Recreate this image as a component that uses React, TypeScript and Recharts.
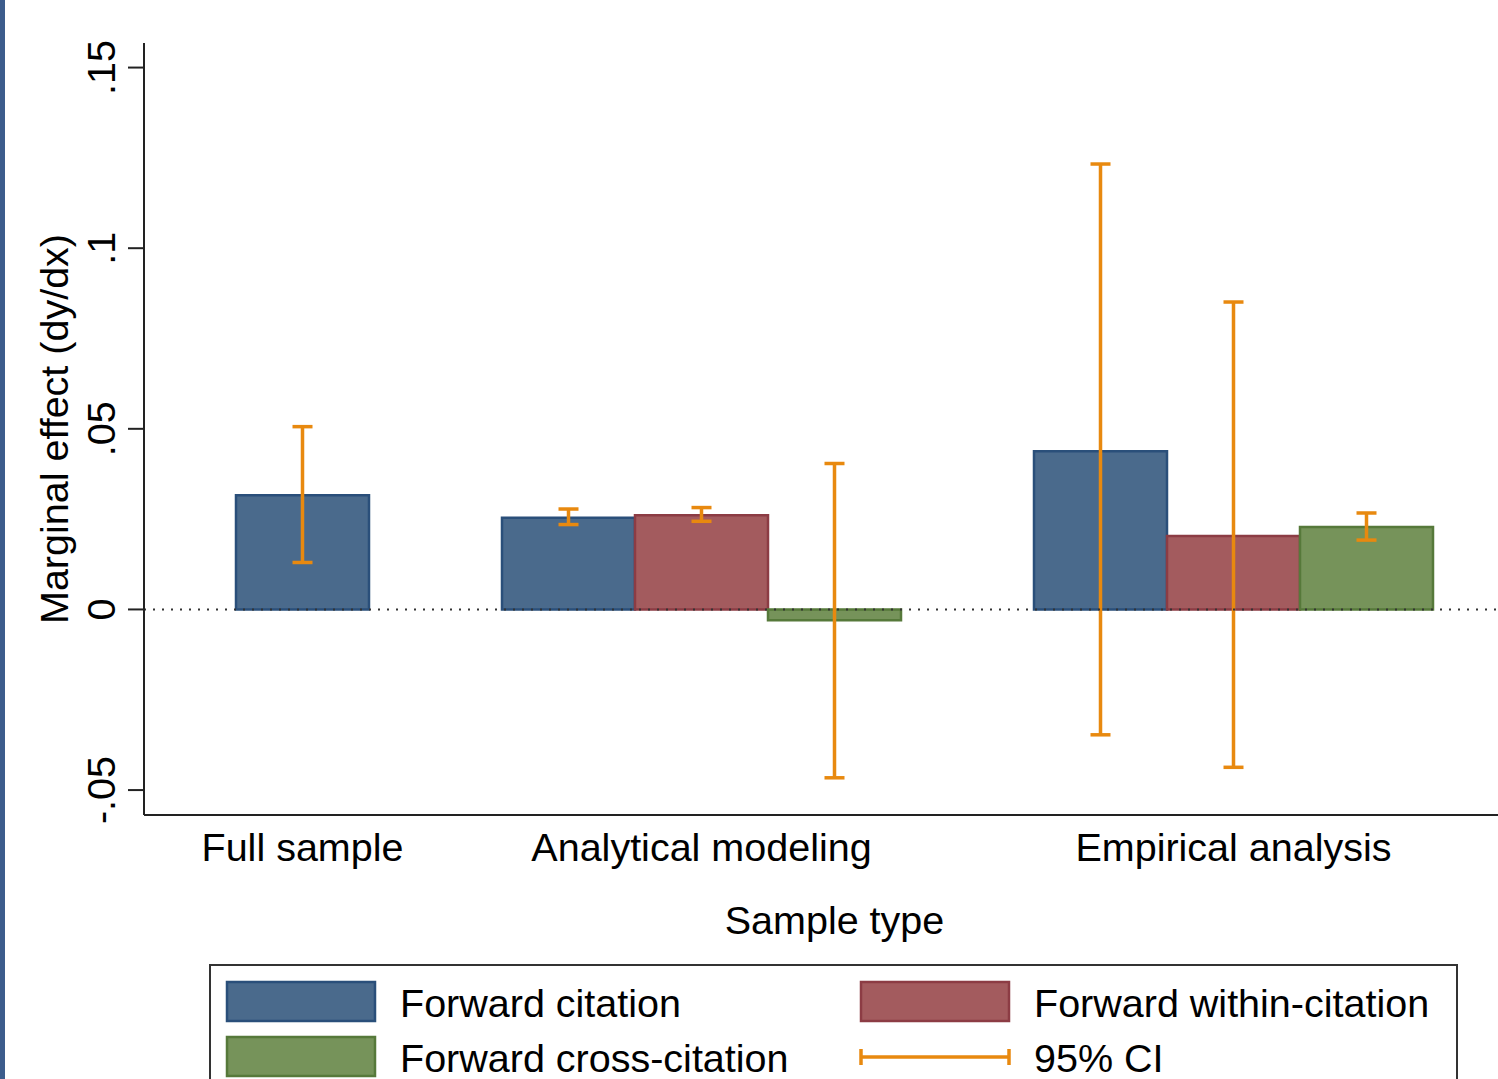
import React from 'react'
import { BarChart, Bar, XAxis, YAxis, Cell, ErrorBar, ReferenceLine, Label } from 'recharts'

const groups = ['Full sample', 'Analytical modeling', 'Empirical analysis']
const seriesNames = ['Forward citation', 'Forward within-citation', 'Forward cross-citation']
const seriesFill = ['#4a6a8c', '#a35b5e', '#76935a']
const seriesStroke = ['#2a4f7a', '#8c3c44', '#56793a']
const ciColor = '#e8890f'

// marginal effects per group, null = not estimated for that group
const forwardCitation = [0.0316, 0.0254, 0.0438]
const withinCitation = [null, 0.0261, 0.0203]
const crossCitation = [null, -0.003, 0.0228]

// 95% CI [lower, upper]
const forwardCitationCI = [[0.013, 0.0506], [0.0235, 0.0278], [-0.0347, 0.1233]]
const withinCitationCI = [null, [0.0244, 0.0282], [-0.0437, 0.0851]]
const crossCitationCI = [null, [-0.0466, 0.0404], [0.0192, 0.0267]]

const yTicks = [-0.05, 0, 0.05, 0.1, 0.15]

const seriesValues = [forwardCitation, withinCitation, crossCitation]
const seriesCI = [forwardCitationCI, withinCitationCI, crossCitationCI]

type Row = { slot: string; label: string; value: number | null; err: number[] | null; series: number }

const rows: Row[] = []
groups.forEach((g, gi) => {
  if (gi > 0) rows.push({ slot: `gap${gi}`, label: '', value: null, err: null, series: -1 })
  const members = seriesValues.map((_, si) => si).filter((si) => seriesValues[si][gi] != null)
  members.forEach((si, k) => {
    const v = seriesValues[si][gi] as number
    const [lo, hi] = seriesCI[si][gi] as number[]
    rows.push({
      slot: `${gi}-${si}`,
      label: k === Math.floor(members.length / 2) ? g : '',
      value: v,
      err: [v - lo, hi - v],
      series: si,
    })
  })
})

const font = '"Liberation Sans", Arial, sans-serif'
const fs = 39.5
const fmt = (v: number) => (v === 0 ? '0' : String(v).replace('0.', '.'))

const YTick = (props: any) => {
  const { x, y, payload } = props
  return (
    <text x={x} y={y} transform={`rotate(-90, ${x}, ${y})`} textAnchor="middle" fontSize={fs} fill="#000" fontFamily={font}>
      {fmt(payload.value)}
    </text>
  )
}

const XTick = (props: any) => {
  const { x, y, payload } = props
  const row = rows[payload.index]
  if (!row || !row.label) return null
  return (
    <text x={x} y={y + 46} textAnchor="middle" fontSize={fs} fill="#000" fontFamily={font}>
      {row.label}
    </text>
  )
}

export default function App() {
  return (
    <div style={{ position: 'absolute', left: 0, top: 0, width: 1498, height: 1079, overflow: 'hidden', background: '#fff' }}>
      <div style={{ position: 'absolute', left: 0, top: 0, width: 5, height: 1079, background: '#3c5c8c' }} />
      <BarChart
        width={1530}
        height={960}
        data={rows}
        margin={{ top: 43, right: 5, left: 0, bottom: 0 }}
        barCategoryGap={0}
        barGap={0}
        style={{ fontFamily: font }}
      >
        <XAxis
          dataKey="slot"
          type="category"
          interval={0}
          height={145}
          padding={{ left: 92, right: 92 }}
          tickLine={false}
          tickSize={0}
          tickMargin={0}
          axisLine={{ stroke: '#222', strokeWidth: 2 }}
          tick={<XTick />}
        >
          <Label value="Sample type" position="insideBottom" offset={26} fontSize={fs} fill="#000" fontFamily={font} />
        </XAxis>
        <YAxis
          width={144}
          domain={[-0.0569, 0.1568]}
          allowDataOverflow
          ticks={yTicks}
          interval={0}
          tickSize={16}
          tickMargin={13}
          tickLine={{ stroke: '#222', strokeWidth: 2 }}
          axisLine={{ stroke: '#222', strokeWidth: 2 }}
          tick={<YTick />}
        >
          <Label
            content={(p: any) => {
              const vb = p.viewBox
              const cx = 68
              const cy = vb.y + vb.height / 2
              return (
                <text x={cx} y={cy} transform={`rotate(-90, ${cx}, ${cy})`} textAnchor="middle" fontSize={fs} fill="#000" fontFamily={font}>
                  Marginal effect (dy/dx)
                </text>
              )
            }}
          />
        </YAxis>
        <Bar dataKey="value" isAnimationActive={false} strokeWidth={2.5}>
          {rows.map((r) => (
            <Cell key={r.slot} fill={r.series >= 0 ? seriesFill[r.series] : 'none'} stroke={r.series >= 0 ? seriesStroke[r.series] : 'none'} />
          ))}
          <ErrorBar dataKey="err" width={10} stroke={ciColor} strokeWidth={3.5} isAnimationActive={false} />
        </Bar>
        <ReferenceLine y={0} stroke="#333" strokeWidth={2} strokeDasharray="2 7" />
      </BarChart>
      <svg width={1498} height={1079} style={{ position: 'absolute', left: 0, top: 0, pointerEvents: 'none' }}>
        <rect x={210} y={965} width={1247} height={160} fill="none" stroke="#333" strokeWidth={2} />
        {[0, 2, 1].map((si, i) => {
          const col = i < 2 ? 0 : 1
          const row = i % 2
          const sx = col === 0 ? 227 : 861
          const sy = row === 0 ? 982 : 1037
          return (
            <g key={si}>
              <rect x={sx} y={sy} width={148} height={39} fill={seriesFill[si]} stroke={seriesStroke[si]} strokeWidth={2.5} />
              <text x={sx + 173} y={sy + 35} fontSize={fs} fill="#000" fontFamily={font}>
                {seriesNames[si]}
              </text>
            </g>
          )
        })}
        <g stroke={ciColor} strokeWidth={3.5}>
          <line x1={861} y1={1057} x2={1009} y2={1057} />
          <line x1={861} y1={1049} x2={861} y2={1065} />
          <line x1={1009} y1={1049} x2={1009} y2={1065} />
        </g>
        <text x={1034} y={1072} fontSize={fs} fill="#000" fontFamily={font}>
          95% CI
        </text>
      </svg>
    </div>
  )
}
